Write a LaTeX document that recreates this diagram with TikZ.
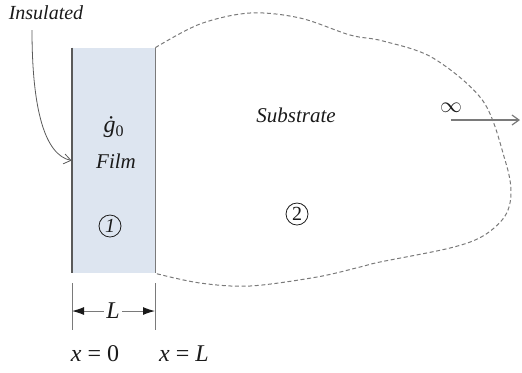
\documentclass[tikz,border=0pt]{standalone}
\usepackage{fontspec}
\setmainfont{Liberation Serif}
\usepackage{xcolor}
\usetikzlibrary{arrows.meta,positioning,calc}
\definecolor{filmBlue}{HTML}{DDE5F0}
\definecolor{edgeGray}{HTML}{5A5A5A}
\definecolor{lineGray}{HTML}{7A7A7A}
\definecolor{ink}{HTML}{1A1A1A}

\begin{document}
\begin{tikzpicture}[x=0.5pt,y=-0.5pt,font=\fontsize{10.5}{12}\selectfont\itshape,text=ink,
  film/.style={fill=filmBlue,draw=none,minimum width=41.5pt,minimum height=112.5pt,inner sep=0pt},
  num/.style={circle,draw=ink,line width=0.4pt,inner sep=0pt,minimum size=11pt,font=\fontsize{10}{12}\selectfont},
  big/.style={font=\fontsize{12}{14}\selectfont\itshape},
  dim/.style={draw=lineGray,line width=0.5pt}]
\useasboundingbox (0,0) rectangle (522,372);
% film layer
\node[film] (film) at (113.5,160.5) {};
\draw[edgeGray,line width=1.1pt] (film.north west) -- (film.south west);
\draw[lineGray,line width=0.7pt] (film.north east) -- (film.south east);
\node[big] (gen) at (114,127) {\.{g}\textsubscript{\upshape 0}};
\node (filmtxt) at (116,161) {Film};
\node[num] (one) at (110,226) {\textit{1}};
% substrate boundary
\draw[lineGray,line width=0.5pt,dash pattern=on 2pt off 1.3pt]
  plot[smooth,tension=0.55] coordinates {(film.north east) (200,24) (250,13) (300,18) (350,35)
  (383,41) (433,58) (483,101) (505,160) (511,192) (505,216) (483,236) (450,248)
  (380,262) (360,267) (317,277) (250,286) (200,283) (film.south east)};
\node (sub) at (296,115) {Substrate};
\node[num,font=\fontsize{10}{12}\selectfont\upshape] (two) at (297,214) {2};
% far field
\node[font=\fontsize{11}{12}\selectfont\upshape] (inf) at (451,108) {$\infty$};
\coordinate (infA) at (451,120);
\coordinate (infB) at (520,120);
\draw[lineGray,line width=0.6pt,-{Straight Barb[length=3.5pt,width=5pt]}] (infA) -- (infB);
% insulated face
\node[font=\fontsize{10}{12}\selectfont\itshape] (ins) at (46,13) {Insulated};
\coordinate (insTail) at (32,30);
\draw[edgeGray,line width=0.4pt,-{Straight Barb[length=3.5pt,width=5pt]}]
  (insTail) .. controls (32,110) and (45,155) .. (film.west);
% thickness
\coordinate (extL) at (72,283);
\coordinate (extR) at (155,283);
\draw[dim] (extL) -- ++(0,47);
\draw[dim] (extR) -- ++(0,47);
\node[big,inner sep=1pt] (len) at (113,311) {L};
\draw[dim,-{Latex[length=6pt,width=4pt,color=ink]}] (len.west) -- (72,311);
\draw[dim,-{Latex[length=6pt,width=4pt,color=ink]}] (len.east) -- (155,311);
\node[big,anchor=base] (xzero) at (95,361) {x\hspace{0.25em}\upshape=\hspace{0.25em}0};
\node[big,anchor=base] (xlen) at (184,361) {x\hspace{0.25em}\upshape=\hspace{0.25em}\itshape L};
\end{tikzpicture}
\end{document}
